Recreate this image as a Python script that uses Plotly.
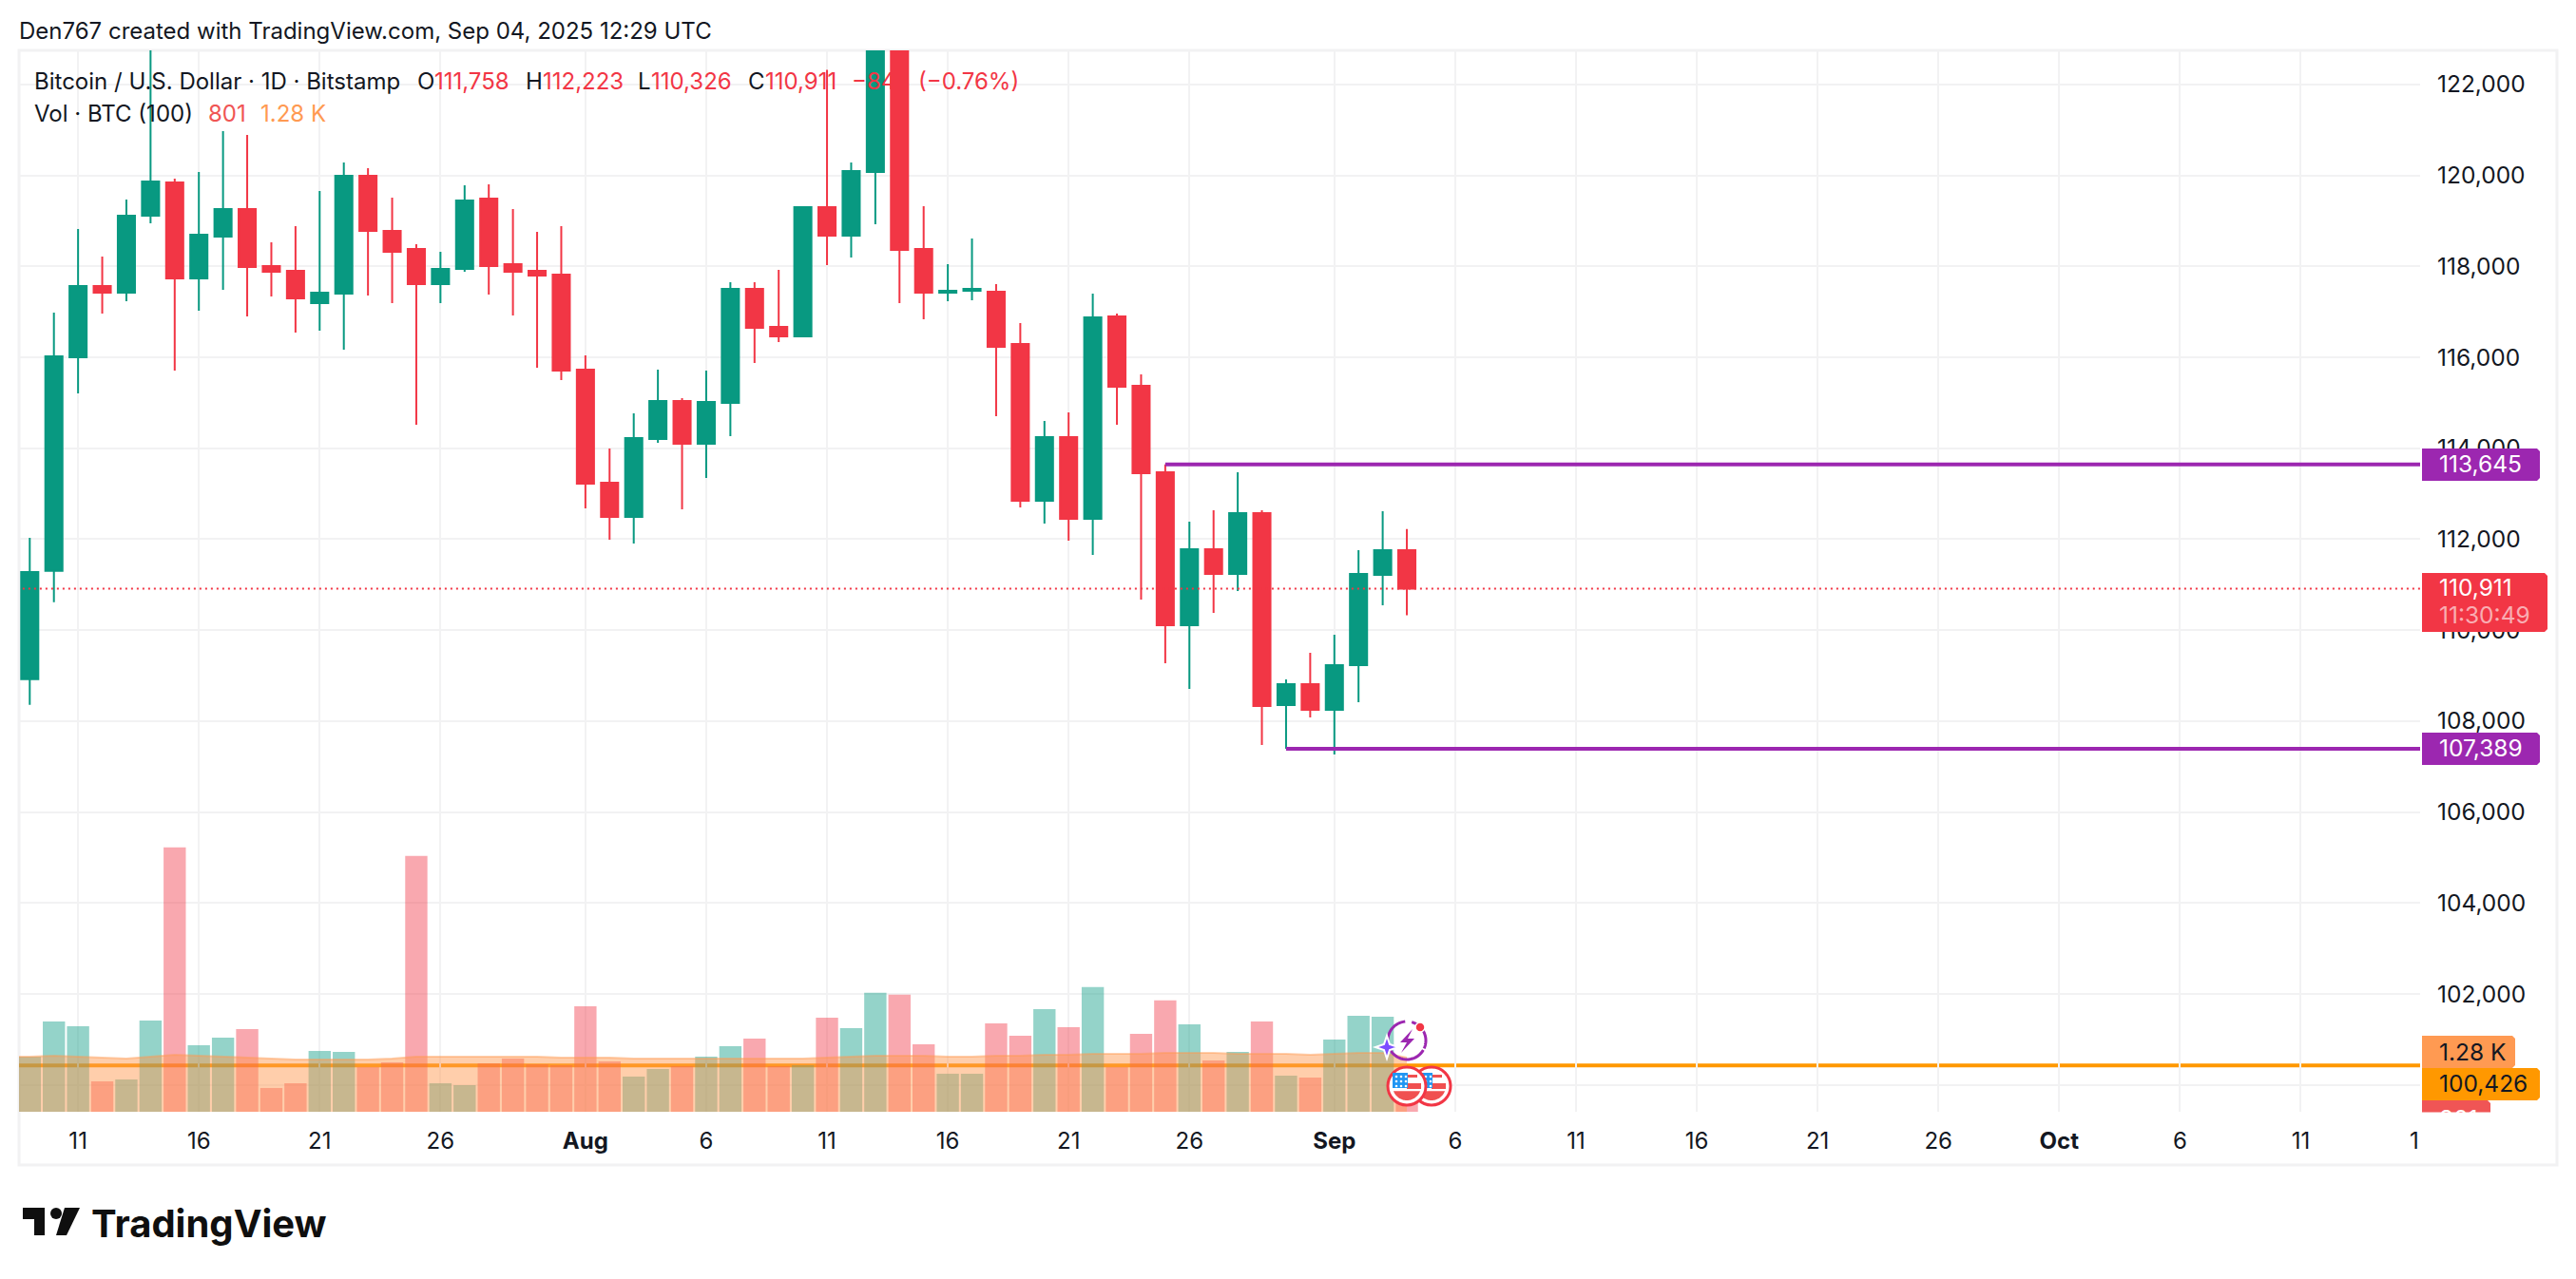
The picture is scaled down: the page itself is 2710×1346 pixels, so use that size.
import numpy as np
import pandas as pd
import plotly.graph_objects as go

# daily candles Jul 9 - Sep 4 2025
dates = pd.date_range("2025-07-09", "2025-09-04").strftime("%Y-%m-%d").tolist()
opens = [108923, 111305, 116000, 117567, 117420, 119113, 119844, 117734, 118653, 119259, 118005, 117901, 117191, 117400,
         119990, 118778, 118382, 117608, 117943, 119489, 118047, 117901, 117817,
         115728, 113242, 112489, 114203, 115038, 114098, 114997, 117504, 116668, 116459, 119301, 118674, 120074, 123347,
         118382, 117420, 117462, 117441, 116292, 112845, 114244, 112448, 116898, 115373, 113471, 110107, 111779, 111236,
         112573, 108352, 108812, 108248, 109230, 111215, 111758]
highs = [112030, 116982, 118820, 118214, 119468, 123218, 119928, 120074, 120972, 120889, 118528, 118883, 119656, 120283,
         120157, 119510, 118486, 118319, 119781, 119802, 119259, 118757, 118883,
         116041, 113994, 114767, 115728, 115101, 115707, 117650, 117650, 117922, 119301, 122320, 120283, 123780, 124474,
         119322, 118047, 118611, 117608, 116752, 114600, 114788, 117400, 116961, 115623, 113645, 112385, 112636, 113471,
         112636, 108917, 109502, 109899, 111758, 112615, 112223]
lows = [108359, 110615, 115206, 116961, 117232, 118946, 115707, 117023, 117483, 116898, 117337, 116543, 116585, 116167,
        117358, 117191, 114516, 117191, 117880, 117379, 116919, 115770, 115498,
        112677, 111988, 111904, 114119, 112656, 113346, 114265, 115874, 116334, 116459, 118026, 118193, 118925, 117191,
        116835, 117232, 117253, 114704, 112698, 112343, 111967, 111654, 114516, 110672, 109272, 108708, 110379, 110860,
        107475, 107389, 108081, 107266, 108415, 110546, 110326]
closes = [111278, 116020, 117567, 117420, 119113, 119865, 117734, 118695, 119259, 117985, 117880, 117295, 117420, 119990,
          118778, 118319, 117608, 117943, 119447, 118005, 117880, 117796, 115707,
          113221, 112489, 114224, 115038, 114098, 115018, 117504, 116647, 116459, 119301, 118674, 120095, 123347, 118361,
          117420, 117462, 117504, 116229, 112845, 114244, 112448, 116877, 115352, 113450, 110107, 111779, 111236, 112573,
          108332, 108812, 108248, 109230, 111236, 111758, 110911]
volumes = [1305, 2138, 2025, 720, 765, 2160, 6255, 1575, 1755, 1958, 563, 675, 1440, 1418, 1058, 1170, 6053, 675, 630,
           1148, 1260, 1125, 1103,
           2498, 1193, 833, 1013, 1080, 1305, 1553, 1733, 1080, 1103, 2228, 1980, 2813, 2768, 1598, 900, 900, 2093, 1800,
           2430, 2003, 2948, 1058, 1845, 2633, 2070, 1215, 1418, 2138, 855, 810,
           1710, 2273, 2250, 801]
# volume MA starts one bar earlier, off the left edge
ma_dates = ["2025-07-08"] + dates
ma_values = [1305, 1305, 1328, 1305, 1283, 1260, 1305, 1350, 1328, 1305, 1283, 1260, 1238, 1238, 1238, 1238, 1260, 1305,
             1305, 1305, 1305, 1305, 1305, 1283,
             1283, 1283, 1260, 1260, 1260, 1260, 1260, 1260, 1260, 1260, 1283, 1305, 1328, 1328, 1328, 1305, 1305, 1328,
             1328, 1350, 1350, 1373, 1373, 1373, 1395, 1395, 1395, 1373, 1373, 1373, 1350,
             1373, 1395, 1395, 1283]

price_ticks = [100000, 102000, 104000, 106000, 108000, 110000, 112000, 114000, 116000, 118000, 120000, 122000]
date_ticks = ["2025-07-11", "2025-07-16", "2025-07-21", "2025-07-26", "2025-08-01", "2025-08-06", "2025-08-11",
              "2025-08-16", "2025-08-21", "2025-08-26", "2025-09-01", "2025-09-06", "2025-09-11", "2025-09-16",
              "2025-09-21", "2025-09-26", "2025-10-01", "2025-10-06", "2025-10-11"]
date_labels = ["11", "16", "21", "26", "<b>Aug</b>", "6", "11", "16", "21", "26", "<b>Sep</b>", "6", "11", "16", "21",
               "26", "<b>Oct</b>", "6", "11"]
high_pivot = 113645
low_pivot = 107389
orange_level = 100426
last_close = 110911

GREEN = "#089981"
RED = "#F23645"
PURPLE = "#9C27B0"
ORANGE = "#FF9800"
INK = "#131722"
GRID = "#F2F2F3"
FONT = "Inter"

# plot area inside the 2710x1346 page, in pixels
L, R, T, B = 20, 2546, 53, 1170


def px(x):
    return (x - L) / (R - L)


def py(y):
    return (B - y) / (B - T)


def poly(points, close=True):
    d = "M " + " L ".join(f"{px(x):.5f},{py(y):.5f}" for x, y in points)
    return d + (" Z" if close else "")


def shape_poly(points, fill, line=None, width=0):
    return dict(type="path", xref="paper", yref="paper", path=poly(points), fillcolor=fill, layer="above",
                line=dict(color=line or fill, width=width))


def circle(cx, cy, r, fill, line=None, width=0):
    return dict(type="circle", xref="paper", yref="paper", x0=px(cx - r), x1=px(cx + r), y0=py(cy + r), y1=py(cy - r),
                fillcolor=fill, layer="above", line=dict(color=line or fill, width=width))


def tag(x0, x1, y0, y1, color, rad=3):
    # price tag, square on the axis side and slightly rounded on the right
    pts = [(x0, y0), (x1 - rad, y0), (x1, y0 + rad), (x1, y1 - rad), (x1 - rad, y1), (x0, y1)]
    return shape_poly(pts, color)


def text(x, y, s, color=INK, size=24, anchor="left", **kw):
    return dict(xref="paper", yref="paper", x=px(x), y=py(y), text=s, showarrow=False, xanchor=anchor, yanchor="middle",
                font=dict(family=FONT, size=size, color=color), borderpad=0, borderwidth=0, **kw)


def arc(cx, cy, r, a0, a1):
    return [(cx + r * np.cos(np.radians(a)), cy - r * np.sin(np.radians(a))) for a in np.linspace(a0, a1, 40)]


def flag(cx, cy):
    out = [circle(cx, cy, 20, "white", RED, 3)]
    r = 15
    # lower red cap and middle stripe
    out.append(shape_poly(arc(cx, cy, r, 200, 340), "#F05050"))
    out.append(shape_poly([(cx, cy - 3), (cx + r, cy - 3), (cx + r, cy + 3), (cx, cy + 3)], "#F05050"))
    out.append(shape_poly([(cx - 4, cy - r + 3), (cx + 11, cy - r + 3), (cx + 11, cy - 9), (cx - 4, cy - 9)], "#F05050"))
    # canton
    out.append(shape_poly([(cx - r, cy - r + 1), (cx + 1, cy - r + 1), (cx + 1, cy + 2), (cx - r, cy + 2)], "#2196F3"))
    for i in range(3):
        for j in range(3):
            out.append(circle(cx - 11 + 5 * i, cy - 10 + 5 * j, 1.3, "white"))
    return out


vol_colors = ["rgba(8,153,129,0.43)" if c >= o else "rgba(242,54,69,0.43)" for o, c in zip(opens, closes)]

fig = go.Figure()
fig.add_trace(go.Bar(x=dates, y=volumes, marker=dict(color=vol_colors, line=dict(width=0)), width=0.92 * 86400000,
                     yaxis="y", hoverinfo="skip"))
fig.add_trace(go.Scatter(x=ma_dates, y=ma_values, mode="lines", fill="tozeroy", fillcolor="rgba(255,152,80,0.48)",
                         line=dict(color="rgba(255,152,80,0.45)", width=2), yaxis="y", hoverinfo="skip"))
fig.add_trace(go.Candlestick(x=dates, open=opens, high=highs, low=lows, close=closes, yaxis="y2", whiskerwidth=0,
                             increasing=dict(line=dict(color=GREEN, width=2), fillcolor=GREEN),
                             decreasing=dict(line=dict(color=RED, width=2), fillcolor=RED)))
fig.add_trace(go.Scatter(x=["2025-08-25", "2025-10-17"], y=[high_pivot, high_pivot], mode="lines", yaxis="y2",
                         line=dict(color=PURPLE, width=4), hoverinfo="skip"))
fig.add_trace(go.Scatter(x=["2025-08-30", "2025-10-17"], y=[low_pivot, low_pivot], mode="lines", yaxis="y2",
                         line=dict(color=PURPLE, width=4), hoverinfo="skip"))
fig.add_trace(go.Scatter(x=["2025-07-08", "2025-10-17"], y=[last_close, last_close], mode="lines", yaxis="y2",
                         line=dict(color=RED, width=2, dash="2px,4px"), hoverinfo="skip"))

shapes = [
    # chart frame
    dict(type="rect", xref="paper", yref="paper", x0=px(20), x1=px(2690), y0=py(1226), y1=py(53), layer="below",
         line=dict(color=GRID, width=3)),
    # orange level sits under the volume bars
    dict(type="line", xref="paper", yref="y2", x0=0, x1=1, y0=orange_level, y1=orange_level, layer="below",
         line=dict(color=ORANGE, width=4)),
    tag(2548, 2672, 472, 506, PURPLE),
    tag(2548, 2680, 603, 665, RED),
    tag(2548, 2672, 771, 805, PURPLE),
    tag(2548, 2646, 1090, 1124, "#FF9A52"),
    tag(2548, 2620, 1158, 1190, "#F05555", rad=3),
    tag(2548, 2672, 1124, 1158, ORANGE),
]
# event icons on the last bars
shapes += flag(1506, 1143)
shapes += flag(1480, 1143)
shapes.append(dict(type="path", xref="paper", yref="paper", layer="above", fillcolor="rgba(0,0,0,0)",
                   path=poly(arc(1480, 1095, 20, -25, 75), close=False), line=dict(color=PURPLE, width=3)))
shapes.append(dict(type="path", xref="paper", yref="paper", layer="above", fillcolor="rgba(0,0,0,0)",
                   path=poly(arc(1480, 1095, 20, 95, 330), close=False), line=dict(color=PURPLE, width=3)))
shapes.append(shape_poly([(1486, 1083), (1473, 1097), (1480, 1097), (1474, 1108), (1488, 1093), (1481, 1093)], PURPLE))
shapes.append(circle(1494, 1081, 5, RED, "white", 1.5))
shapes.append(shape_poly([(1459, 1090), (1462, 1099), (1471, 1102), (1462, 1105), (1459, 1114), (1456, 1105), (1447, 1102),
                          (1456, 1099)], "#7C4DFF", "white", 2))
# logo mark
shapes.append(shape_poly([(24, 1271), (47, 1271), (47, 1300), (36, 1300), (36, 1283), (24, 1283)], "#0F0F0F"))
shapes.append(circle(59, 1277, 6, "#0F0F0F"))
shapes.append(shape_poly([(68, 1271), (84, 1271), (70, 1300), (59, 1300)], "#0F0F0F"))

annotations = [
    text(20, 32, "Den767 created with TradingView.com, Sep 04, 2025 12:29 UTC"),
    text(36, 85, "Bitcoin / U.S. Dollar · 1D · Bitstamp"),
    text(439, 85, "O"), text(457, 85, "111,758", RED),
    text(553, 85, "H"), text(571, 85, "112,223", RED),
    text(671, 85, "L"), text(685, 85, "110,326", RED),
    text(787, 85, "C"), text(805, 85, "110,911", RED),
    text(896, 85, "−847", RED), text(966, 85, "(−0.76%)", RED),
    text(36, 120, "Vol · BTC (100)"),
    text(219, 120, "801", "#F05555"),
    text(274, 120, "1.28 K", "#FF9A52"),
    text(2566, 488, "113,645", "white", 24.5),
    text(2566, 618, "110,911", "white", 24.5),
    text(2566, 647, "11:30:49", "rgba(255,255,255,0.6)", 24.5),
    text(2566, 787, "107,389", "white", 24.5),
    text(2566, 1107, "1.28 K", INK, 24.5),
    text(2566, 1140, "100,426", INK, 24.5),
    text(2566, 1177, "801", "white", 24.5),
    # the lowest tag is cut off by the pane edge
    dict(xref="paper", yref="paper", x=px(2545), y=py(1170), xanchor="left", yanchor="top", text=" ", showarrow=False,
         width=100, height=30, bgcolor="white", borderpad=0),
    text(2545, 1200, "1", anchor="right"),
    text(96, 1287, "<b>TradingView</b>", "#0F0F0F", 40),
]

fig.update_layout(
    width=2710,
    height=1346,
    margin=dict(l=L, r=2710 - R, t=T, b=1346 - B, pad=0),
    paper_bgcolor="white",
    plot_bgcolor="white",
    showlegend=False,
    barmode="overlay",
    boxmode="overlay",
    boxgap=0.29,
    boxgroupgap=0,
    font=dict(family=FONT, size=24, color=INK),
    shapes=shapes,
    annotations=annotations,
    xaxis=dict(type="date", range=["2025-07-08 13:20", "2025-10-15 22:34"], rangeslider=dict(visible=False),
               tickmode="array", tickvals=date_ticks, ticktext=date_labels, showgrid=True, gridcolor=GRID, gridwidth=2,
               zeroline=False, showline=False, ticks="", tickangle=0, tickfont=dict(family=FONT, size=24, color=INK),
               ticklabelstandoff=14),
    yaxis=dict(range=[0, 25110], visible=False, showgrid=False, zeroline=False, fixedrange=True),
    yaxis2=dict(range=[99409, 122748], overlaying="y", side="right", anchor="x", tickmode="array", tickvals=price_ticks,
                tickformat=",d", showgrid=True, gridcolor=GRID, gridwidth=2, zeroline=False, showline=False, ticks="",
                tickfont=dict(family=FONT, size=24.5, color=INK), ticklabelstandoff=17),
)

fig.write_html("out.html", config=dict(displayModeBar=False), post_script="document.body.style.margin='0';")
